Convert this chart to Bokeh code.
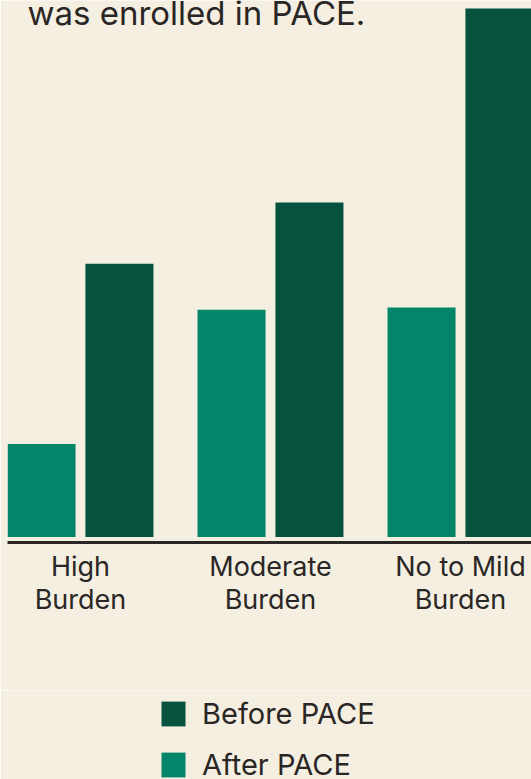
from bokeh.plotting import figure
from bokeh.layouts import column
from bokeh.models import ColumnDataSource, Range1d, Legend, LegendItem, Label, FixedTicker
from bokeh.embed import file_html
from bokeh.resources import INLINE

categories = ["High\nBurden", "Moderate\nBurden", "No to Mild\nBurden"]
after_pace = [17.6, 43.0, 43.4]
before_pace = [51.7, 63.3, 100.0]
series_labels = ["Before PACE", "After PACE"]

BG = "#f4efe0"
TEAL = "#03856a"
DARK = "#05533f"
INK = "#2a2626"
FONT = "Inter"

idx = list(range(len(categories)))
off = 0.205
w = 0.358
src_after = ColumnDataSource(dict(x=[i - off for i in idx], top=after_pace))
src_before = ColumnDataSource(dict(x=[i + off for i in idx], top=before_pace))

p = figure(frame_width=524, frame_height=542, output_backend="svg", toolbar_location=None,
           x_range=Range1d(-0.3842, 2.3737), y_range=Range1d(-1.04, 101.5),
           min_border_left=7, min_border_right=0, min_border_top=0, min_border_bottom=148,
           y_axis_location=None)
p.background_fill_color = BG
p.border_fill_color = BG
p.outline_line_color = None
p.grid.visible = False

r_after = p.vbar(x="x", top="top", bottom=0, width=w, source=src_after, color=TEAL, line_color=None)
r_before = p.vbar(x="x", top="top", bottom=0, width=w, source=src_before, color=DARK, line_color=None)

ax = p.xaxis[0]
ax.ticker = FixedTicker(ticks=idx)
ax.major_label_overrides = {i: c for i, c in zip(idx, categories)}
ax.major_tick_line_color = None
ax.minor_tick_line_color = None
ax.axis_line_width = 3
ax.axis_line_color = INK
ax.major_label_text_font = FONT
ax.major_label_text_font_size = "27px"
ax.major_label_text_line_height = 1.0
ax.major_label_text_color = INK
ax.major_label_standoff = 1

title = Label(x=-0.279, y=99.1, text="was enrolled in PACE.", text_baseline="alphabetic",
              text_font=FONT, text_font_size="33px", text_color=INK)
p.add_layout(title)

# legend strip below the chart (swatches only, no visible data marks)
lf = figure(width=531, height=89, output_backend="svg", toolbar_location=None,
            x_range=Range1d(0, 1), y_range=Range1d(0, 1),
            x_axis_location=None, y_axis_location=None,
            min_border_left=0, min_border_right=0, min_border_top=0, min_border_bottom=0)
lf.background_fill_color = BG
lf.border_fill_color = BG
lf.outline_line_color = None
lf.grid.visible = False
nan = float("nan")
g_before = lf.vbar(x=[nan], top=[nan], width=0.1, color=DARK, line_color=None)
g_after = lf.vbar(x=[nan], top=[nan], width=0.1, color=TEAL, line_color=None)

legend = Legend(items=[LegendItem(label=series_labels[0], renderers=[g_before]),
                       LegendItem(label=series_labels[1], renderers=[g_after])],
                orientation="vertical", location=(151, -3),
                glyph_width=30, glyph_height=31, spacing=16, label_standoff=14,
                label_text_font=FONT, label_text_font_size="29px", label_text_color=INK,
                background_fill_alpha=0, border_line_color=None, margin=0, padding=0)
lf.add_layout(legend)

layout = column(p, lf, spacing=0)
open("out.html", "w").write(file_html(layout, INLINE))
